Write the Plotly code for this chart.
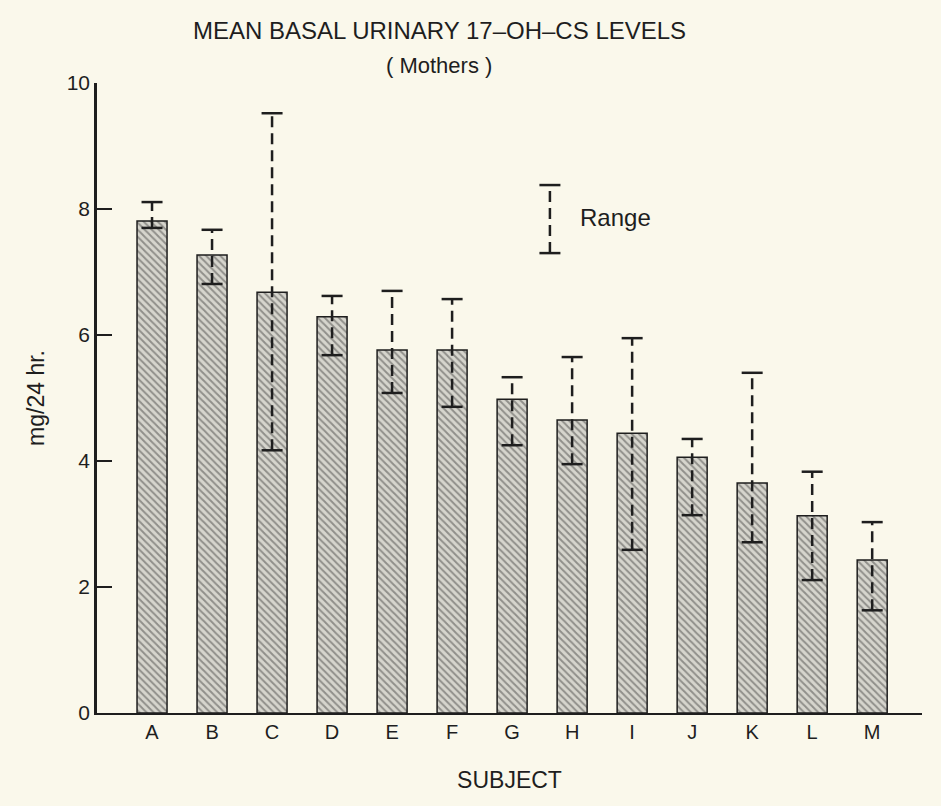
import plotly.graph_objects as go

# ---- data ----
subjects = ["A", "B", "C", "D", "E", "F", "G", "H", "I", "J", "K", "L", "M"]
means = [7.81, 7.27, 6.68, 6.29, 5.76, 5.76, 4.98, 4.65, 4.44, 4.06, 3.65, 3.13, 2.43]
range_min = [7.70, 6.81, 4.17, 5.68, 5.08, 4.86, 4.25, 3.95, 2.59, 3.14, 2.71, 2.11, 1.63]
range_max = [8.11, 7.67, 9.52, 6.62, 6.70, 6.57, 5.33, 5.65, 5.95, 4.35, 5.40, 3.83, 3.03]
y_ticks = [0, 2, 4, 6, 8, 10]

# legend key (position of the "Range" sample)
key_x = 6.63
key_lo, key_hi = 7.30, 8.38

BG = "#FAF8EB"
INK = "#1e1e1e"
FONT = "Liberation Sans"

xs = list(range(len(subjects)))

fig = go.Figure()

fig.add_trace(go.Bar(
    x=xs, y=means, width=0.5,
    marker=dict(
        color="#d9d8d0",
        line=dict(color=INK, width=1.5),
        pattern=dict(shape="\\", fgcolor="#4a4a48", bgcolor="#d6d5cd",
                     size=5, solidity=0.4),
    ),
    showlegend=False, hoverinfo="skip",
))

# dashed range lines with caps
for i in xs:
    fig.add_trace(go.Scatter(
        x=[i, i], y=[range_min[i], range_max[i]], mode="lines+markers",
        line=dict(color=INK, width=2.5, dash="11px,6px"),
        marker=dict(symbol="line-ew-open", size=15,
                    line=dict(color=INK, width=2.5)),
        showlegend=False, hoverinfo="skip",
    ))

# legend key
fig.add_trace(go.Scatter(
    x=[key_x, key_x], y=[key_lo, key_hi], mode="lines+markers",
    line=dict(color=INK, width=2.5, dash="11px,6px"),
    marker=dict(symbol="line-ew-open", size=15, line=dict(color=INK, width=2.5)),
    showlegend=False, hoverinfo="skip",
))
fig.add_annotation(x=key_x + 0.47, y=(key_lo + key_hi) / 2 + 0.03, text="Range",
                   showarrow=False, xanchor="left", yanchor="middle",
                   font=dict(family=FONT, size=24, color=INK))

fig.add_annotation(xref="paper", yref="paper", x=0.415, y=1.084,
                   text="MEAN BASAL URINARY 17\u2013OH\u2013CS LEVELS",
                   showarrow=False, xanchor="center", yanchor="middle",
                   font=dict(family=FONT, size=24, color=INK))
fig.add_annotation(xref="paper", yref="paper", x=0.415, y=1.028,
                   text="( Mothers )",
                   showarrow=False, xanchor="center", yanchor="middle",
                   font=dict(family=FONT, size=22, color=INK))

fig.update_layout(
    width=941, height=806,
    margin=dict(l=97, r=19, t=83, b=93),
    paper_bgcolor=BG, plot_bgcolor=BG,
    font=dict(family=FONT, color=INK),
    bargap=0.5,
)
fig.update_xaxes(
    range=[-0.917, 12.83], tickmode="array", tickvals=xs, ticktext=subjects,
    showgrid=False, zeroline=False, showline=True, linecolor=INK, linewidth=2,
    ticks="", tickfont=dict(size=20, color=INK),
    title=dict(text="SUBJECT", font=dict(size=23, color=INK), standoff=30),
)
fig.update_yaxes(
    range=[0, 10], tickmode="array", tickvals=y_ticks,
    showgrid=False, zeroline=False, showline=True, linecolor=INK, linewidth=2.5,
    ticks="inside", ticklen=15, tickwidth=2, tickcolor=INK,
    tickfont=dict(size=21, color=INK),
    title=dict(text="mg/24 hr.", font=dict(size=23, color=INK), standoff=16),
)

fig.write_html(
    "out.html",
    config={"displayModeBar": False},
    post_script="document.body.style.margin='0';document.body.style.background='%s';" % BG,
)
